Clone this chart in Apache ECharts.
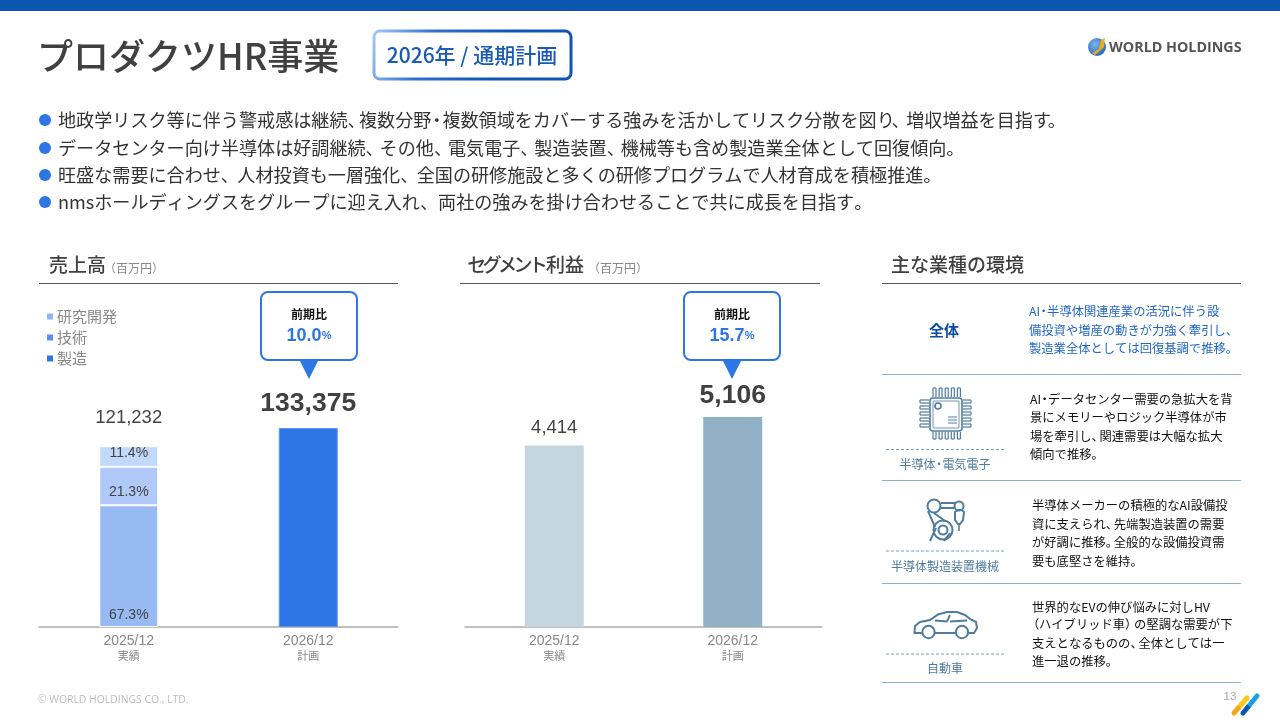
<!DOCTYPE html>
<html lang="ja">
<head>
<meta charset="utf-8">
<style>html,body{margin:0;padding:0;background:#fff}#c{width:1280px;height:720px}</style>
<script src="https://cdn.jsdelivr.net/npm/echarts@6/dist/echarts.min.js"></script>
</head>
<body>
<div id="c"></div>
<script>
const periods = ['2025/12', '2026/12'];
const periodNotes = ['実績', '計画'];
const seriesNames = ['研究開発', '技術', '製造'];
const manufacturing = [81589, 133375];
const technology = [25822, null];
const research = [13821, null];
const salesTotals = [121232, 133375];
const profit = [4414, 5106];
const shareLabels = { '製造': '67.3%', '技術': '21.3%', '研究開発': '11.4%' };
const titleText = 'プロダクツHR事業';
const badgeText = '2026年 / 通期計画';
const bullets = [
  '地政学リスク等に伴う警戒感は継続、複数分野・複数領域をカバーする強みを活かしてリスク分散を図り、増収増益を目指す。',
  'データセンター向け半導体は好調継続、その他、電気電子、製造装置、機械等も含め製造業全体として回復傾向。',
  '旺盛な需要に合わせ、人材投資も一層強化、全国の研修施設と多くの研修プログラムで人材育成を積極推進。',
  'nmsホールディングスをグループに迎え入れ、両社の強みを掛け合わせることで共に成長を目指す。'
];
const yoyLabel = '前期比';
const yoyValues = ['10.0', '15.7'];
const envAll = ['AI・半導体関連産業の活況に伴う設', '備投資や増産の動きが力強く牽引し、', '製造業全体としては回復基調で推移。'];
const envChip = ['AI・データセンター需要の急拡大を背', '景にメモリーやロジック半導体が市', '場を牽引し、関連需要は大幅な拡大', '傾向で推移。'];
const envRobot = ['半導体メーカーの積極的なAI設備投', '資に支えられ、先端製造装置の需要', 'が好調に推移。全般的な設備投資需', '要も底堅さを維持。'];
const envCar = ['世界的なEVの伸び悩みに対しHV', '（ハイブリッド車）の堅調な需要が下', '支えとなるものの、全体としては一', '進一退の推移。'];

const JP = '"Noto Sans CJK JP","Noto Sans",sans-serif';
const LAT = '"Liberation Sans",Arial,sans-serif';
const BLUE = '#2E75E6', ICON = '#4F7C9E', RULE = '#8FB1C9';

const g = [];
const txt = (x, y, text, font, fill, align) => g.push({ type: 'text', silent: true, style: { x, y, text, font, fill, textAlign: align || 'left', textVerticalAlign: 'middle' } });
const line = (x1, y1, x2, y2, stroke, lineWidth, dash) => g.push({ type: 'line', silent: true, shape: { x1, y1, x2, y2 }, style: { stroke, lineWidth: lineWidth || 1, lineDash: dash || null } });
const rect = (x, y, width, height, r, style) => g.push({ type: 'rect', silent: true, shape: { x, y, width, height, r }, style });
const circ = (cx, cy, r, style) => g.push({ type: 'circle', silent: true, shape: { cx, cy, r }, style });
const poly = (points, style, smooth) => g.push({ type: 'polyline', silent: true, shape: { points, smooth: smooth || 0 }, style });
const gon = (points, style, smooth) => g.push({ type: 'polygon', silent: true, shape: { points, smooth: smooth || 0 }, style });

// text with tightened punctuation, the way the reference sets it
const tokenAlign = { p: 'left', c: 'center', l: 'left', k: 'center' };
const tight = (x, y, text, font, fill, w, align) => {
  if (w.open && text[0] === '（') {
    txt(x - w.open + 1, y, '（', font, fill);
    x += w.open + 1;
    text = text.slice(1);
  }
  let out = '', run = '';
  const flush = () => { if (run) { out += '{n|' + run + '}'; run = ''; } };
  for (const ch of text) {
    let cls = null;
    if (w.p && '、。'.includes(ch)) cls = 'p';
    else if (w.c && '・'.includes(ch)) cls = 'c';
    else if (w.l && '）'.includes(ch)) cls = 'l';
    else if (w.k && 'セグメント'.includes(ch)) cls = 'k';
    if (cls) { flush(); out += '{' + cls + '|' + ch + '}'; } else run += ch;
  }
  flush();
  const rich = { n: { font, fill } };
  ['p', 'c', 'l', 'k'].forEach(k => { if (w[k]) rich[k] = { font, fill, width: w[k], align: tokenAlign[k] }; });
  g.push({ type: 'text', silent: true, style: { x, y, text: out, rich, textAlign: align || 'left', textVerticalAlign: 'middle' } });
};

// header band, title, badge
rect(0, 0, 1280, 11, 0, { fill: '#0B57B0' });
txt(37, 56, titleText, '500 36px ' + JP, '#404040');
rect(374, 31, 197, 48, 6, {
  fill: '#fff', lineWidth: 3,
  stroke: { type: 'linear', x: 0, y: 0, x2: 0.6, y2: 1, colorStops: [{ offset: 0, color: '#A9CBF7' }, { offset: 0.45, color: '#2E6FD0' }, { offset: 1, color: '#0F55B5' }] }
});
txt(472, 55, badgeText, '500 21px ' + JP, '#1A5BB5', 'center');

// logo
circ(1097, 47, 9, { fill: { type: 'radial', x: 0.4, y: 0.35, r: 0.8, colorStops: [{ offset: 0, color: '#7FB4E8' }, { offset: 1, color: '#0F5DB0' }] } });
gon([[1092, 53], [1099, 49], [1101, 40], [1105, 38], [1104, 47], [1095, 55]], { fill: '#F2A71B' });
txt(1109, 48, 'WORLD HOLDINGS', '700 14.3px "Open Sans",' + LAT, '#555');

// bullets
const bulletFont = '18.1px ' + JP;
[[120, 11.5, 11], [148, 14, 11], [175, 16.5, 11], [202, 18.1, 11]].forEach(([y, p, c], i) => {
  circ(45, y, 6, { fill: BLUE });
  tight(58, y, bullets[i], bulletFont, '#333', { p, c });
});

// panel headings
line(39, 283.5, 398, 283.5, '#555', 1.2);
line(460, 283.5, 820, 283.5, '#555', 1.2);
line(882, 283.5, 1241, 283.5, '#555', 1.2);
const headFont = '500 19px ' + JP, unitFont = '12px ' + JP, unitW = { open: 6, l: 9 };
txt(49, 265, '売上高', headFont, '#404040');
tight(109, 268, '（百万円）', unitFont, '#888', unitW);
tight(469, 265, 'セグメント利益', headFont, '#404040', { k: 15.4 });
tight(593, 268, '（百万円）', unitFont, '#888', unitW);
txt(891, 265, '主な業種の環境', headFont, '#404040');

// callouts
[[309, 0], [732, 1]].forEach(([cx, i]) => {
  rect(cx - 48, 292, 96, 68, 7, { fill: '#fff', stroke: BLUE, lineWidth: 2 });
  gon([[cx - 9, 361], [cx + 9, 361], [cx, 379]], { fill: BLUE });
  txt(cx, 314, yoyLabel, '700 12px ' + JP, '#111', 'center');
  g.push({ type: 'text', silent: true, style: { x: cx, y: 336, textAlign: 'center', textVerticalAlign: 'middle',
    text: '{a|' + yoyValues[i] + '}{b|%}',
    rich: { a: { font: '700 18px ' + LAT, fill: BLUE }, b: { font: '700 11px ' + LAT, fill: BLUE } } } });
});

// environment panel
line(882, 374.5, 1241, 374.5, RULE);
line(882, 480.5, 1241, 480.5, RULE);
line(882, 583.5, 1241, 583.5, RULE);
line(882, 682.5, 1241, 682.5, RULE);
txt(944, 330, '全体', '700 15px ' + JP, '#0B4EA2', 'center');
const envFont = '12.3px ' + JP, envW = { p: 8, c: 7, open: 6, l: 9 };
const para = (x, ys, lines, fill) => lines.forEach((t, i) => tight(x, ys[i], t, envFont, fill, envW));
para(1029, [311, 330, 348], envAll, '#1F66C8');
para(1030, [399, 417, 436, 454], envChip, '#111');
para(1032, [505, 524, 542, 561], envRobot, '#111');
para(1032, [607, 624, 643, 661], envCar, '#111');
[449.5, 551, 654].forEach(y => line(886, y, 1006, y, '#7F9DB3', 1, [3, 2]));
tight(945, 464, '半導体・電気電子', '12px ' + JP, ICON, { c: 7 }, 'center');
txt(945, 566, '半導体製造装置機械', '12px ' + JP, ICON, 'center');
txt(945, 668, '自動車', '12px ' + JP, ICON, 'center');

// chip icon
const ic = { fill: 'none', stroke: ICON, lineWidth: 1.6 };
const ic2 = { fill: 'none', stroke: ICON, lineWidth: 2 };
rect(930, 398, 32, 33, 3, ic);
rect(933, 401, 26, 27, 1, { fill: 'none', stroke: ICON, lineWidth: 0.8 });
circ(938, 406, 3, ic);
[417, 420, 423].forEach(y => line(948, y, 957, y, ICON, 1));
[0, 1, 2, 3, 4].forEach(i => {
  const d = 933 + i * 6.1, e = 400 + i * 6;
  line(d, 388, d, 397, ICON, 1.2); line(d + 3, 388, d + 3, 397, ICON, 1.2); line(d, 388, d + 3, 388, ICON, 1.2);
  line(d, 432, d, 439, ICON, 1.2); line(d + 3, 432, d + 3, 439, ICON, 1.2); line(d, 439, d + 3, 439, ICON, 1.2);
  line(920, e, 929, e, ICON, 1.2); line(920, e + 3, 929, e + 3, ICON, 1.2); line(920, e, 920, e + 3, ICON, 1.2);
  line(963, e, 971, e, ICON, 1.2); line(963, e + 3, 971, e + 3, ICON, 1.2); line(971, e, 971, e + 3, ICON, 1.2);
});

// robot icon
circ(934, 506, 6.5, ic2); circ(959, 506, 4.5, ic2);
circ(943, 530, 9.5, ic2); circ(943, 530, 4.5, ic2);
line(941, 503, 955, 503, ICON, 2); line(941, 508, 955, 508, ICON, 2);
line(928, 511, 935, 527, ICON, 2); line(934, 513, 945, 521, ICON, 2);
gon([[955, 512], [958, 510], [962, 510], [964, 512], [963, 520], [960, 524], [958, 524], [955, 520]], ic2);
line(959, 524, 959, 531, ICON, 1.6);
line(930, 541, 936, 528, ICON, 2); line(944, 541, 950, 533, ICON, 2);

// car icon
poly([[922, 633], [914.5, 633], [915, 626], [920, 622], [930, 620], [938, 614.5], [947, 612], [957, 612], [965, 615], [970, 619], [976, 622], [977, 628], [974, 633], [969, 633]], ic2);
line(935, 633, 955, 633, ICON, 2);
circ(928.5, 632, 6.2, ic2); circ(962, 632, 6.2, ic2);
line(935, 620.5, 947, 621.5, ICON, 1.8);
line(950, 615, 947, 621.5, ICON, 1.8);
line(950, 621.5, 967, 620.5, ICON, 1.8);

// footer
txt(38, 700, '© WORLD HOLDINGS CO., LTD.', '10.4px "Open Sans",sans-serif', '#BBBBBB');
txt(1230, 697, '13', '11.5px ' + LAT, '#AAAAAA', 'center');
const slash = (x1, y1, x2, y2, c1, c2) => g.push({ type: 'line', silent: true, shape: { x1, y1, x2, y2 },
  style: { lineWidth: 5, lineCap: 'round', stroke: { type: 'linear', global: true, x: x1, y: y1, x2, y2, colorStops: [{ offset: 0, color: c1 }, { offset: 0.4, color: c1 }, { offset: 0.45, color: c2 }, { offset: 1, color: c2 }] } } });
slash(1234, 713, 1247, 698, '#F5A71B', '#FFC81E');
slash(1243, 713, 1257, 696, '#0B57B0', '#1EA0E8');

const axisLabel = {
  interval: 0, margin: 7, formatter: (v, i) => '{y|' + v + '}\n{n|' + periodNotes[i] + '}',
  rich: { y: { fontFamily: LAT, fontSize: 14, color: '#888', lineHeight: 15 }, n: { fontFamily: JP, fontSize: 11, color: '#888', lineHeight: 13 } }
};
const xAxisBase = {
  type: 'category', data: periods, axisTick: { show: false }, axisLabel,
  axisLine: { lineStyle: { color: '#AAAAAA', width: 1.5 } }
};
const yAxisBase = { type: 'value', show: false, min: 0, splitLine: { show: false } };
const shareLabel = (name, position, offset, distance) => ({
  show: true, position, offset, fontFamily: LAT, fontSize: 14, color: '#444',
  formatter: p => p.dataIndex === 0 ? shareLabels[name] : '', distance
});
const seg = (vals, color) => vals.map((v, i) => i === 0 ? { value: v, itemStyle: { color, borderColor: '#fff', borderWidth: 1 } } : { value: v });
const fmt = p => p.value.toLocaleString('en-US');
const totalData = (vals, plain, strong) => vals.map((v, i) => ({
  value: v,
  label: i === 0
    ? { fontFamily: LAT, fontSize: 18.5, fontWeight: 400, color: '#444', distance: plain }
    : { fontFamily: LAT, fontSize: 26.5, fontWeight: 700, color: '#404040', distance: strong }
}));
const totalSeries = (name, axis, vals, plain, strong) => ({
  type: 'line', name, xAxisIndex: axis, yAxisIndex: axis, data: totalData(vals, plain, strong),
  symbol: 'circle', symbolSize: 1, itemStyle: { color: 'transparent' }, lineStyle: { width: 0, color: 'transparent' },
  label: { show: true, position: 'top', formatter: fmt }
});

const chart = echarts.init(document.getElementById('c'), null, { renderer: 'canvas' });
chart.setOption({
  animation: false,
  backgroundColor: '#fff',
  legend: {
    data: seriesNames, orient: 'vertical', left: 42, top: 304, itemWidth: 6, itemHeight: 6, itemGap: 6,
    icon: 'rect', selectedMode: false, itemStyle: { borderWidth: 0 },
    textStyle: { fontFamily: JP, fontSize: 15, color: '#888', padding: [0, 0, 0, -1] }
  },
  grid: [
    { left: 39, width: 359, top: 284, height: 343 },
    { left: 465, width: 357, top: 284, height: 343 }
  ],
  xAxis: [Object.assign({ gridIndex: 0 }, xAxisBase), Object.assign({ gridIndex: 1 }, xAxisBase)],
  yAxis: [Object.assign({ gridIndex: 0, max: 230000 }, yAxisBase), Object.assign({ gridIndex: 1, max: 8340 }, yAxisBase)],
  series: [
    { type: 'bar', name: '製造', stack: 's', barWidth: 59, xAxisIndex: 0, yAxisIndex: 0, data: seg(manufacturing, '#97BAF2'),
      itemStyle: { color: BLUE, borderColor: '#5A94EE', borderWidth: 1 }, label: shareLabel('製造', 'insideBottom', undefined, 5) },
    { type: 'bar', name: '技術', stack: 's', barWidth: 59, xAxisIndex: 0, yAxisIndex: 0, data: seg(technology, '#B0C9F8'),
      itemStyle: { color: '#5B8FEF' }, label: shareLabel('技術', 'inside', [0, 6], 1) },
    { type: 'bar', name: '研究開発', stack: 's', barWidth: 59, xAxisIndex: 0, yAxisIndex: 0, data: seg(research, '#C1D9FA'),
      itemStyle: { color: '#8FB4F4' }, label: shareLabel('研究開発', 'insideTop', undefined, 0) },
    totalSeries('売上高', 0, salesTotals, 18, 10),
    { type: 'bar', name: 'セグメント利益', barWidth: 59, xAxisIndex: 1, yAxisIndex: 1,
      data: profit.map((v, i) => ({ value: v, itemStyle: { color: i === 0 ? '#C5D6E1' : '#93B1C6' } })) },
    totalSeries('利益ラベル', 1, profit, 8, 7)
  ],
  graphic: { elements: g }
});
</script>
</body>
</html>
